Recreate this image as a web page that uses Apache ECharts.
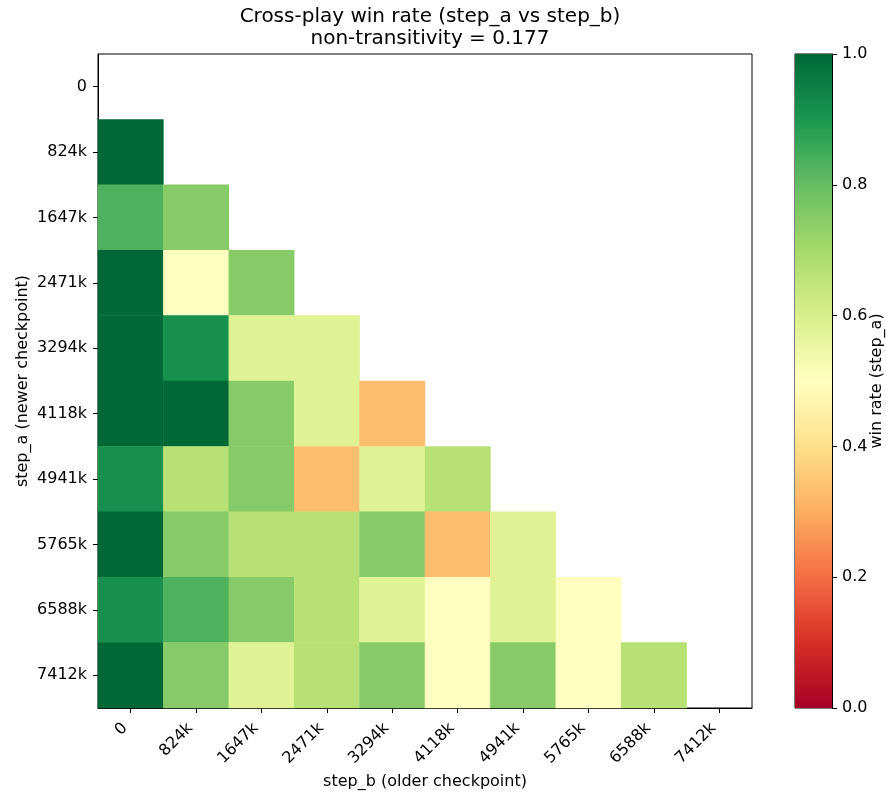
<!DOCTYPE html>
<html>
<head>
<meta charset="utf-8">
<script src="https://cdn.jsdelivr.net/npm/echarts@6/dist/echarts.min.js"></script>
<style>html,body{margin:0;padding:0;background:#fff;}#c{width:886px;height:792px;}</style>
</head>
<body>
<div id="c"></div>
<script>
const steps = ['0','824k','1647k','2471k','3294k','4118k','4941k','5765k','6588k','7412k'];
// rows: step_a (newer), values vs step_b columns 0..i-1
const row824k  = [1.0];
const row1647k = [0.833, 0.75];
const row2471k = [1.0, 0.5, 0.75];
const row3294k = [1.0, 0.917, 0.583, 0.583];
const row4118k = [1.0, 1.0, 0.75, 0.583, 0.333];
const row4941k = [0.917, 0.667, 0.75, 0.333, 0.583, 0.667];
const row5765k = [1.0, 0.75, 0.667, 0.667, 0.75, 0.333, 0.583];
const row6588k = [0.917, 0.833, 0.75, 0.667, 0.583, 0.5, 0.583, 0.5];
const row7412k = [1.0, 0.75, 0.583, 0.667, 0.75, 0.5, 0.75, 0.5, 0.667];
const rows = [[], row824k, row1647k, row2471k, row3294k, row4118k, row4941k, row5765k, row6588k, row7412k];
const cbTicks = [0, 0.2, 0.4, 0.6, 0.8, 1.0];

const rdylgn = ['#a50026','#d73027','#f46d43','#fdae61','#fee08b','#ffffbf','#d9ef8b','#a6d96a','#66bd63','#1a9850','#006837'];

const data = [];
rows.forEach((r, i) => r.forEach((v, j) => data.push([j, i, v])));

const font = 'DejaVu Sans';
const fs = 16;
const chart = echarts.init(document.getElementById('c'), null, {renderer: 'canvas'});
chart.setOption({
  backgroundColor: '#fff',
  animation: false,
  textStyle: {fontFamily: font},
  title: {
    text: 'Cross-play win rate (step_a vs step_b)\nnon-transitivity = 0.177',
    left: 425, top: 1, textAlign: 'center',
    textStyle: {fontFamily: font, fontSize: 20, fontWeight: 'normal', color: '#000', lineHeight: 22}
  },
  grid: [
    {left: 98, top: 54, width: 654, height: 654, show: true, borderColor: '#000', borderWidth: 1, backgroundColor: 'transparent', outerBoundsMode: 'none', containLabel: false},
    {left: 795, top: 54, width: 37, height: 654, show: true, borderColor: '#000', borderWidth: 1, backgroundColor: 'transparent', outerBoundsMode: 'none', containLabel: false}
  ],
  xAxis: [
    {type: 'category', gridIndex: 0, data: steps,
     axisLine: {show: true, lineStyle: {color: '#000'}},
     axisTick: {show: true, alignWithLabel: true, length: 5, lineStyle: {color: '#000'}},
     axisLabel: {rotate: 45, fontSize: fs, color: '#000', margin: 12, padding: [0, 8, 0, 0], fontFamily: font, interval: 0},
     splitLine: {show: false},
     name: 'step_b (older checkpoint)', nameLocation: 'middle', nameGap: 66, nameMoveOverlap: false,
     nameTextStyle: {fontSize: fs, color: '#000', fontFamily: font}},
    {type: 'category', gridIndex: 1, data: ['cb'], show: false}
  ],
  yAxis: [
    {type: 'category', gridIndex: 0, data: steps, inverse: true,
     axisLine: {show: true, lineStyle: {color: '#000'}},
     axisTick: {show: true, alignWithLabel: true, length: 5, lineStyle: {color: '#000'}},
     axisLabel: {fontSize: fs, color: '#000', margin: 11, fontFamily: font, interval: 0},
     splitLine: {show: false},
     name: 'step_a (newer checkpoint)', nameLocation: 'middle', nameGap: 67, nameRotate: 90, nameMoveOverlap: false,
     nameTextStyle: {fontSize: fs, color: '#000', fontFamily: font}},
    {type: 'value', gridIndex: 1, min: 0, max: 1, interval: 0.2, position: 'right',
     axisLine: {show: true, lineStyle: {color: '#000'}},
     axisTick: {show: true, length: 5, lineStyle: {color: '#000'}},
     axisLabel: {fontSize: fs, color: '#000', margin: 10, fontFamily: font, formatter: v => v.toFixed(1)},
     splitLine: {show: false},
     name: 'win rate (step_a)', nameLocation: 'middle', nameGap: 37, nameRotate: 90, nameMoveOverlap: false,
     nameTextStyle: {fontSize: fs, color: '#000', fontFamily: font}}
  ],
  visualMap: {
    show: false, type: 'continuous', min: 0, max: 1, seriesIndex: 0, dimension: 2,
    inRange: {color: rdylgn}
  },
  series: [
    {type: 'heatmap', xAxisIndex: 0, yAxisIndex: 0, data: data, itemStyle: {borderWidth: 0}},
    {type: 'bar', xAxisIndex: 1, yAxisIndex: 1, data: [cbTicks[cbTicks.length - 1]], barWidth: '100%',
     itemStyle: {color: new echarts.graphic.LinearGradient(0, 1, 0, 0,
       rdylgn.map((c, k) => ({offset: k / (rdylgn.length - 1), color: c})))}}
  ]
});
</script>
</body>
</html>
